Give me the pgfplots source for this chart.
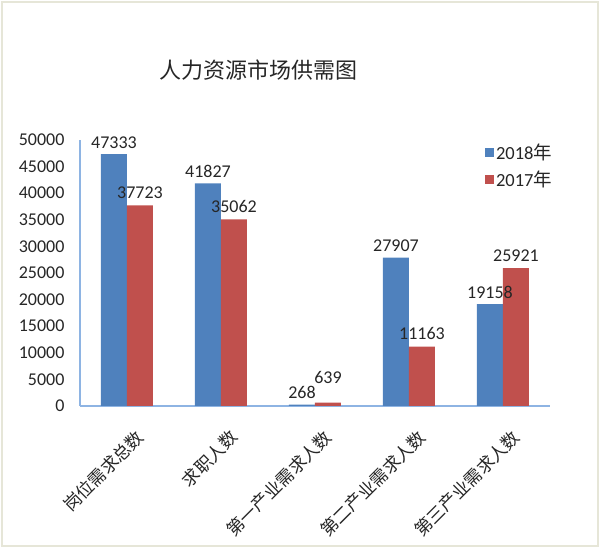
\documentclass[border=0pt]{standalone}
\usepackage{pgfplots}
\pgfplotsset{compat=1.18}
\usepackage{fontspec}
\setmainfont{Carlito}
\newfontfamily\cjk{Noto Sans CJK SC}
\definecolor{bluebar}{HTML}{4F81BD}
\definecolor{redbar}{HTML}{C0504D}
\definecolor{axline}{HTML}{8EB4E3}
\definecolor{framec}{HTML}{E6E6D8}

\pgfplotstableread{
x y dy
0 47333 2
1 41827 2
2 268 2
3 27907 2
4 19158 2
}\blue
\pgfplotstableread{
x y dy
0 37723 3
1 35062 3
2 639 15
3 11163 3
4 25921 3
}\red

\begin{document}
\begin{tikzpicture}
\path[use as bounding box] (0pt,0pt) rectangle (600pt,548pt);
\draw[framec,line width=1.5pt] (2pt,2pt) rectangle (598pt,546pt);
\node[font=\cjk\fontsize{22}{26}\selectfont,text=black!85] at (258pt,478pt) {人力资源市场供需图};
\begin{axis}[
 at={(80pt,142pt)},anchor=south west,
 scale only axis,width=470pt,height=266pt,
 ybar=0pt,bar width=26pt,
 xmin=-0.5,xmax=4.5,ymin=0,ymax=50000,
 xtick={0,1,2,3,4},
 xticklabels={岗位需求总数,求职人数,第一产业需求人数,第二产业需求人数,第三产业需求人数},
 xticklabel style={font=\cjk\fontsize{17.5}{19}\selectfont,rotate=45,anchor=north east,inner sep=1pt,text=black!85,xshift=-9pt,yshift=-20pt},
 ytick={0,5000,...,50000},
 scaled y ticks=false,
 yticklabel style={font=\fontsize{18}{20}\selectfont,text=black!85,xshift=-12pt},
 /pgf/number format/1000 sep={},
 /pgf/number format/assume math mode=true,
 axis x line*=bottom,axis y line*=left,
 axis line style={axline,line width=1.3pt},
 major tick length=0pt,
 nodes near coords,
 visualization depends on={\thisrow{dy} \as \dy},
 nodes near coords style={font=\fontsize{18}{20}\selectfont,text=black!85,anchor=south,yshift=\dy pt},
 legend style={at={(0.855,1.0)},anchor=north west,draw=none,fill=none,
   font=\fontsize{18.5}{20}\selectfont,row sep=6pt,text=black!85},
 legend cell align=left,
 legend image code/.code={\path[#1,draw=none] (0pt,-4.5pt) rectangle (9pt,4.5pt);},
]
\addplot[fill=bluebar,draw=none] table[x=x,y=y] {\blue};
\addlegendentry{2018{\cjk 年}}
\addplot[fill=redbar,draw=none] table[x=x,y=y] {\red};
\addlegendentry{2017{\cjk 年}}
\end{axis}
\end{tikzpicture}
\end{document}
